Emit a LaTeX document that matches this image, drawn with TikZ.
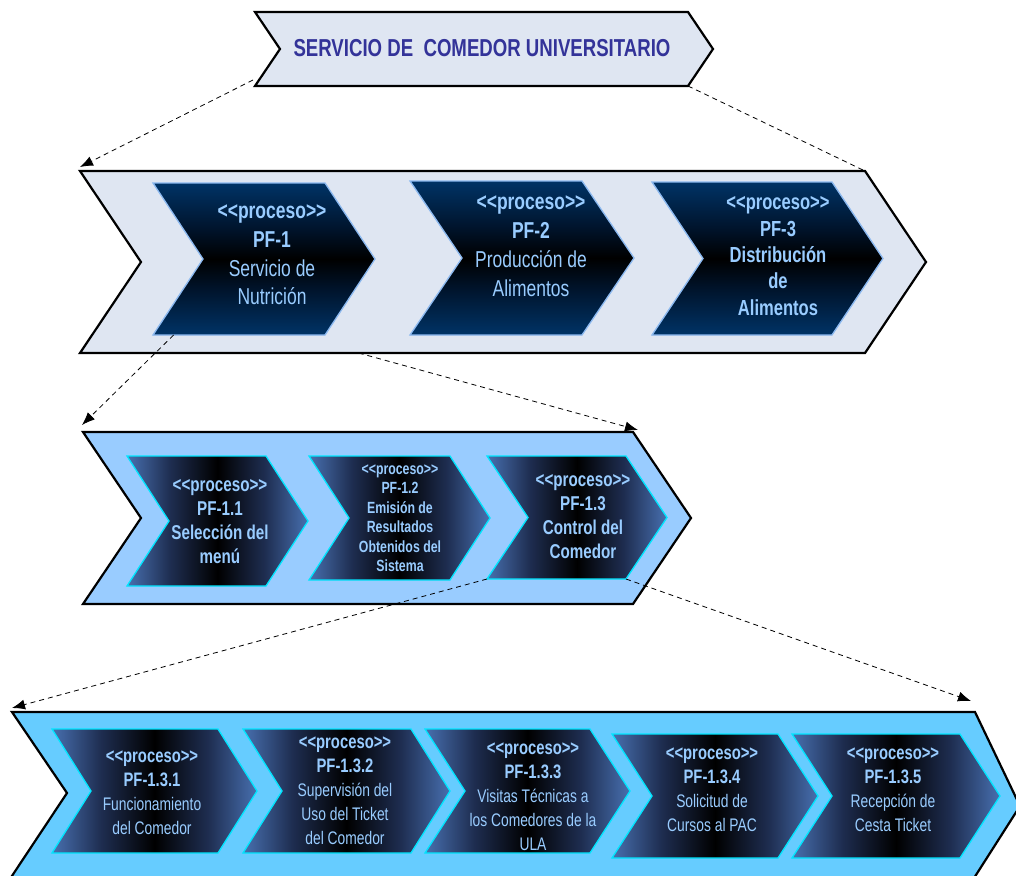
\documentclass[tikz,border=0pt]{standalone}
\usepackage{fontspec}
\setmainfont{Liberation Sans}[FakeStretch=0.76, Ligatures=TeXOff]
\newfontfamily\titlefont{Liberation Sans}[FakeStretch=0.76, Ligatures=TeXOff]
\usetikzlibrary{arrows.meta,calc}

\definecolor{bandpale}{RGB}{223,230,242}
\definecolor{bandmid}{RGB}{153,204,255}
\definecolor{bandsky}{RGB}{102,204,255}
\definecolor{navy}{RGB}{0,51,102}
\definecolor{navydeep}{RGB}{0,20,44}
\definecolor{steel}{RGB}{72,112,176}
\definecolor{steeldeep}{RGB}{30,45,80}
\definecolor{edgeblue}{RGB}{140,185,240}
\definecolor{edgecyan}{RGB}{0,230,255}
\definecolor{labelblue}{RGB}{153,204,255}
\definecolor{titleblue}{RGB}{51,51,153}

% navy to black to navy, top to bottom
\pgfdeclareverticalshading{navyband}{100bp}{color(0bp)=(navy); color(25bp)=(navy);
  color(40bp)=(navydeep); color(50bp)=(black); color(60bp)=(navydeep);
  color(75bp)=(navy); color(100bp)=(navy)}
% steel blue to black to steel blue, left to right
\pgfdeclarehorizontalshading{steelband}{100bp}{color(0bp)=(steel); color(25bp)=(steel);
  color(37bp)=(steeldeep); color(50bp)=(black); color(63bp)=(steeldeep);
  color(75bp)=(steel); color(100bp)=(steel)}

% chevron: name, style, left x, top y, right x, bottom y, point depth
\newcommand\chevshape[7]{%
  \path[#2] (#3,#4) -- (#5,#4) -- ({#5+#7},{(#4+#6)/2}) -- (#5,#6) -- (#3,#6)
    -- ({#3+#7},{(#4+#6)/2}) -- cycle;
  \coordinate (#1-tl) at (#3,#4);
  \coordinate (#1-tr) at (#5,#4);
  \coordinate (#1-bl) at (#3,#6);
  \coordinate (#1-br) at (#5,#6);
  \coordinate (#1-notch) at ({#3+#7},{(#4+#6)/2});
  \coordinate (#1-tip) at ({#5+#7},{(#4+#6)/2});
}

% bold heading lines inside the level 3 boxes
\newcommand\hdthree[1]{\textbf{\fontsize{19.5}{24}\selectfont #1}}

\tikzset{
  band/.style={draw=black, line width=2.2pt, line join=miter},
  innernavy/.style={shade, shading=navyband, draw=edgeblue, line width=1.3pt},
  innersteel/.style={shade, shading=steelband, draw=edgecyan, line width=1.3pt},
  lbl/.style={text=labelblue, align=center, inner sep=0pt},
  link/.style={dash pattern=on 5pt off 4pt, line width=0.8pt,
    -{Latex[length=13pt,width=10pt]}},
}

\begin{document}
\begin{tikzpicture}[x=1pt,y=-1pt]
\useasboundingbox (0,0) rectangle (1016,875);
\clip (0,0) rectangle (1016,875);

% ---- bands ----
\chevshape{top}{band, fill=bandpale}{255}{12}{688}{86}{25}
\chevshape{b2}{band, fill=bandpale}{80}{171}{865}{353}{61}
\chevshape{b3}{band, fill=bandmid}{83}{432}{633}{604}{58}
\path[band, fill=bandsky] (12,712) -- (975,712) -- (1020,806) -- (960,900)
  -- (-4,900) -- (67,793) -- cycle;
\coordinate (b4-tl) at (12,712);
\coordinate (b4-tr) at (975,712);

% ---- level 1 processes ----
\chevshape{pf1}{innernavy}{153}{183}{325}{335}{50}
\chevshape{pf2}{innernavy}{410}{181}{582}{335}{52}
\chevshape{pf3}{innernavy}{652}{182}{832}{335}{51}

% ---- level 2 processes ----
\chevshape{pf11}{innersteel}{127}{456}{266}{586}{42}
\chevshape{pf12}{innersteel}{309}{456}{450}{580}{40}
\chevshape{pf13}{innersteel}{487}{456}{626}{579}{41}

% ---- level 3 processes ----
\chevshape{pf131}{innersteel}{52}{729}{218}{853}{39}
\chevshape{pf132}{innersteel}{243}{729}{411}{853}{39}
\chevshape{pf133}{innersteel}{425}{729}{590}{853}{40}
\chevshape{pf134}{innersteel}{612}{734}{778}{858}{40}
\chevshape{pf135}{innersteel}{792}{734}{960}{858}{40}

% ---- labels ----
\node[text=titleblue, inner sep=0pt, font={\titlefont\bfseries\fontsize{24.5}{28}\selectfont}]
  (t-top) at (482,48) {SERVICIO DE\ \ COMEDOR UNIVERSITARIO};

\node[lbl, font=\fontsize{23}{28.7}\selectfont] (t-pf1) at (272,255)
  {\textbf{<<proceso>>}\\\textbf{PF-1}\\Servicio de\\Nutrición};
\node[lbl, font=\fontsize{23}{29}\selectfont] (t-pf2) at (531,246)
  {\textbf{<<proceso>>}\\\textbf{PF-2}\\Producción de\\Alimentos};
\node[lbl, font=\bfseries\fontsize{21.8}{26.3}\selectfont] (t-pf3) at (778,256)
  {<<proceso>>\\PF-3\\Distribución\\de\\Alimentos};

\node[lbl, font=\bfseries\fontsize{20}{24}\selectfont] (t-pf11) at (220,522)
  {<<proceso>>\\PF-1.1\\Selección del\\menú};
\node[lbl, font=\bfseries\fontsize{16.2}{19.5}\selectfont] (t-pf12) at (400,518)
  {<<proceso>>\\PF-1.2\\Emisión de\\Resultados\\Obtenidos del\\Sistema};
\node[lbl, font=\bfseries\fontsize{20}{24}\selectfont] (t-pf13) at (583,517)
  {<<proceso>>\\PF-1.3\\Control del\\Comedor};

\node[lbl, font=\fontsize{18.2}{24}\selectfont] (t-pf131) at (152,793)
  {\hdthree{<<proceso>>}\\\hdthree{PF-1.3.1}\\Funcionamiento\\del Comedor};
\node[lbl, font=\fontsize{18.2}{24}\selectfont] (t-pf132) at (345,791)
  {\hdthree{<<proceso>>}\\\hdthree{PF-1.3.2}\\Supervisión del\\Uso del Ticket\\del Comedor};
\node[lbl, font=\fontsize{18.2}{24}\selectfont] (t-pf133) at (533,797)
  {\hdthree{<<proceso>>}\\\hdthree{PF-1.3.3}\\Visitas Técnicas a\\los Comedores de la\\ULA};
\node[lbl, font=\fontsize{18.2}{24}\selectfont] (t-pf134) at (712,790)
  {\hdthree{<<proceso>>}\\\hdthree{PF-1.3.4}\\Solicitud de\\Cursos al PAC};
\node[lbl, font=\fontsize{18.2}{24}\selectfont] (t-pf135) at (893,790)
  {\hdthree{<<proceso>>}\\\hdthree{PF-1.3.5}\\Recepción de\\Cesta Ticket};

% ---- decomposition links ----
\coordinate (top-out) at ($(top-bl)+(-2,-6)$);
\draw[link] (top-out) -- ($(b2-tl)+(0,-4)$);
\draw[link, -] (top-br) -- (b2-tr);
\coordinate (pf1-out) at ($(pf1-bl)!0.12!(pf1-br)$);
\draw[link] (pf1-out) -- ($(b3-tl)+(-1,-7)$);
\coordinate (b2-out) at ($(b2-bl)!0.355!(b2-br)$);
\draw[link] (b2-out) -- ($(b3-tr)+(5,-2)$);
\draw[link] (pf13-bl) -- ($(b4-tl)+(0,-4)$);
\draw[link] (pf13-br) -- ($(b4-tr)+(-4,-11)$);
\end{tikzpicture}
\end{document}
